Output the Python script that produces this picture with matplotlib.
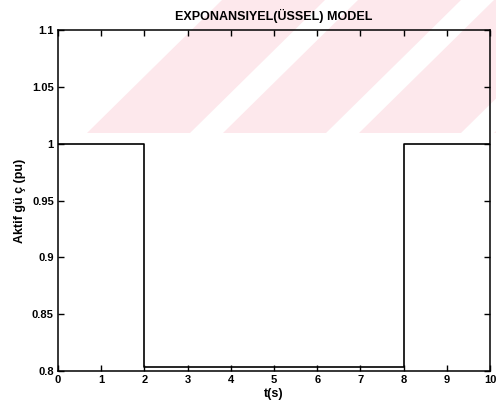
import matplotlib
matplotlib.use("Agg")
import matplotlib.pyplot as plt
from matplotlib.patches import Polygon

t = [0, 2, 2, 8, 8, 10]
p = [1.0, 1.0, 0.804, 0.804, 1.0, 1.0]
xticks = [0, 1, 2, 3, 4, 5, 6, 7, 8, 9, 10]
yticks = [0.8, 0.85, 0.9, 0.95, 1.0, 1.05, 1.1]
ytick_labels = ["0.8", "0.85", "0.9", "0.95", "1", "1.05", "1.1"]

plt.rcParams['font.family'] = ['Liberation Sans', 'DejaVu Sans']
W, H = 496, 411
fig = plt.figure(figsize=(W / 100, H / 100), dpi=100)
fig.patch.set_facecolor('white')


def px(x, y):
    return [x / W, 1 - y / H]


# background watermark (pink diagonal band with white gaps)
shift = 135
ybot = 133
pink = Polygon([px(87, ybot), px(87 + shift, 0), px(W + 5, 0), px(W + 5, ybot)],
               closed=True, transform=fig.transFigure, facecolor='#fde8ec',
               edgecolor='none', zorder=-2)
fig.patches.append(pink)
for gx in [190, 326, 461]:
    gap = Polygon([px(gx, ybot), px(gx + 33, ybot), px(gx + 33 + shift, 0), px(gx + shift, 0)],
                  closed=True, transform=fig.transFigure, facecolor='white',
                  edgecolor='none', zorder=-1)
    fig.patches.append(gap)

ax = fig.add_axes([0.117, 0.097, 0.871, 0.83])
ax.patch.set_alpha(0)
ax.plot(t, p, color='black', linewidth=1.2)
ax.set_xlim(0, 10)
ax.set_ylim(0.8, 1.1)
ax.set_xticks(xticks)
ax.set_xticklabels([str(v) for v in xticks])
ax.set_yticks(yticks)
ax.set_yticklabels(ytick_labels)
ax.tick_params(direction='in', top=True, right=True, labelsize=8, length=4, width=1, pad=3)
for lbl in ax.get_xticklabels() + ax.get_yticklabels():
    lbl.set_fontweight('bold')
for s in ax.spines.values():
    s.set_linewidth(1.1)
ax.set_title('EXPONANSIYEL(ÜSSEL) MODEL', fontsize=9, fontweight='bold', pad=7)
ax.set_xlabel('t(s)', fontsize=9, fontweight='bold', labelpad=2)
ax.set_ylabel('Aktif gü ç (pu)', fontsize=9, fontweight='bold', labelpad=4)
fig.savefig('out.png', dpi=100)
